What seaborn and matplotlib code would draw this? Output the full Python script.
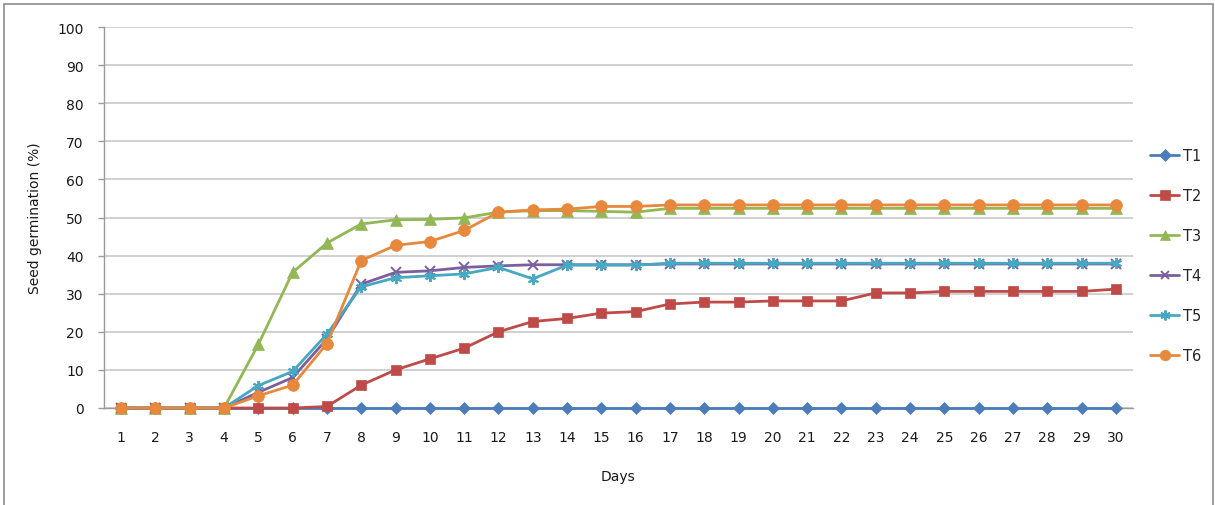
import matplotlib
matplotlib.use("Agg")
import matplotlib.pyplot as plt
import seaborn as sns
import pandas as pd
from matplotlib.patches import Rectangle

# Germination over 30 days for six treatments
days = list(range(1, 31))
T1 = [0, 0, 0, 0, 0, 0, 0, 0, 0, 0, 0, 0, 0, 0, 0,
      0, 0, 0, 0, 0, 0, 0, 0, 0, 0, 0, 0, 0, 0, 0]
T2 = [0, 0, 0, 0, 0, 0, 0.4, 6.0, 10.0, 12.9, 15.7, 20.0, 22.7, 23.5, 24.9,
      25.3, 27.3, 27.8, 27.8, 28.1, 28.1, 28.1, 30.2, 30.2, 30.6, 30.6, 30.6, 30.6, 30.6, 31.2]
T3 = [0, 0, 0, 0, 16.7, 35.6, 43.3, 48.3, 49.4, 49.5, 49.9, 51.4, 51.8, 51.8, 51.6,
      51.4, 52.4, 52.4, 52.4, 52.4, 52.4, 52.4, 52.4, 52.4, 52.4, 52.4, 52.4, 52.4, 52.4, 52.4]
T4 = [0, 0, 0, 0, 4.1, 8.0, 18.1, 32.5, 35.6, 36.0, 36.9, 37.3, 37.6, 37.6, 37.6,
      37.6, 37.8, 37.8, 37.8, 37.8, 37.8, 37.8, 37.8, 37.8, 37.8, 37.8, 37.8, 37.8, 37.8, 37.8]
T5 = [0, 0, 0, 0, 5.9, 9.6, 19.4, 31.8, 34.2, 34.7, 35.2, 36.9, 33.9, 37.5, 37.5,
      37.5, 38.0, 38.0, 38.0, 38.0, 38.0, 38.0, 38.0, 38.0, 38.0, 38.0, 38.0, 38.0, 38.0, 38.0]
T6 = [0, 0, 0, 0, 3.2, 6.0, 16.9, 38.7, 42.7, 43.7, 46.6, 51.4, 52.0, 52.2, 52.9,
      52.9, 53.3, 53.3, 53.3, 53.3, 53.3, 53.3, 53.3, 53.3, 53.3, 53.3, 53.3, 53.3, 53.3, 53.3]

treatments = ["T1", "T2", "T3", "T4", "T5", "T6"]
series = [T1, T2, T3, T4, T5, T6]
colors = ["#4A7DBA", "#BE4B48", "#93B755", "#7B5E9E", "#46A8C2", "#E8883C"]
markers = ["D", "s", "^", "x", (6, 2, 0), "o"]
msizes = [6.5, 7.5, 8, 7, 8, 8.5]

df = pd.DataFrame({"Day": days, **dict(zip(treatments, series))})
long = df.melt(id_vars="Day", var_name="Treatment", value_name="Germination")

sns.set_theme(style="white")
plt.rcParams["font.family"] = ["DejaVu Sans"]

fig = plt.figure(figsize=(12.15, 5.06), dpi=100)
ax = fig.add_axes([104 / 1215, 1 - 409 / 506, (1133 - 104) / 1215, (409 - 28) / 506])

for i, (name, col, mk, ms) in enumerate(zip(treatments, colors, markers, msizes)):
    sub = long[long["Treatment"] == name]
    line_art = mk in ("x", (6, 2, 0))
    sns.lineplot(data=sub, x="Day", y="Germination", ax=ax, color=col,
                 marker=mk, markersize=ms, linewidth=2.0, label=name,
                 markeredgecolor=col, markeredgewidth=1.4 if line_art else 0.5,
                 clip_on=False, zorder=3 + i)

ax.set_xlim(0.5, 30.5)
ax.set_ylim(0, 100)
ax.set_xticks(days)
ax.set_yticks(range(0, 101, 10))
ax.grid(axis="y", color="#C8C8C8", linewidth=1.2)
ax.grid(axis="x", visible=False)
ax.set_axisbelow(True)
for side in ("top", "right"):
    ax.spines[side].set_visible(False)
for side in ("left", "bottom"):
    ax.spines[side].set_color("#9A9A9A")
    ax.spines[side].set_linewidth(1.0)
ax.tick_params(axis="x", length=0, pad=16, labelsize=10, colors="#1a1a1a")
ax.tick_params(axis="y", length=4.5, width=1.0, color="#9A9A9A", pad=10,
               labelsize=10, left=True, labelcolor="#1a1a1a")
ax.set_xlabel("Days", fontsize=10, color="#1a1a1a", labelpad=17.5)
ax.set_ylabel("Seed germination (%)", fontsize=10, color="#1a1a1a", labelpad=11)

ax.legend(loc="upper left", bbox_to_anchor=(1150 / 1215, 1 - 149 / 506),
          bbox_transform=fig.transFigure, frameon=False, fontsize=10.5,
          handlelength=2.0, handletextpad=0.25, labelspacing=1.72,
          borderpad=0, borderaxespad=0, markerscale=0.9)

# outer chart frame
fig.add_artist(Rectangle((4 / 1215, -0.05), 1209 / 1215, 1.05 - 5 / 506,
                         transform=fig.transFigure, fill=False,
                         edgecolor="#8C8C8C", linewidth=1.2))

fig.savefig("out.png", dpi=100)
